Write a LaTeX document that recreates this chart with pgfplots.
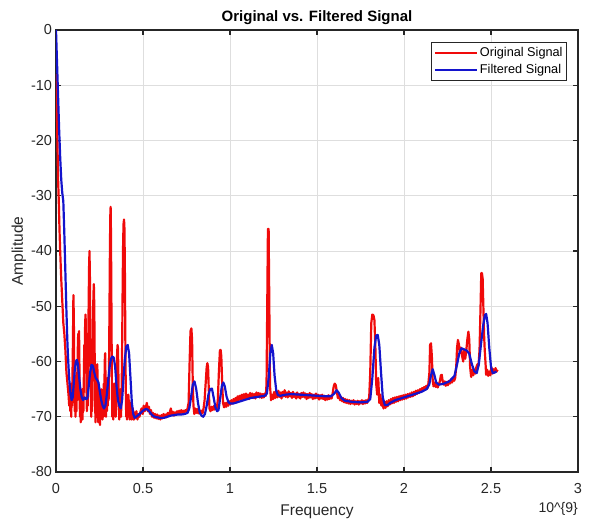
\documentclass[border=0pt]{standalone}
\usepackage{pgfplots}
\pgfplotsset{compat=1.18}
\usepackage{fontspec}
\setmainfont{Liberation Sans}
\definecolor{mred}{RGB}{240,10,10}
\definecolor{mblue}{RGB}{20,20,205}
\definecolor{mgray}{RGB}{38,38,38}
\definecolor{gridc}{RGB}{222,222,222}
\begin{document}
\begin{tikzpicture}
\begin{axis}[
  scale only axis, width=522pt, height=442pt,
  xmin=0, xmax=3, ymin=-80, ymax=0,
  xtick={0,0.5,...,3}, ytick={-80,-70,...,0},
  xticklabels={0,0.5,1,1.5,2,2.5,3},
  yticklabels={-80,-70,-60,-50,-40,-30,-20,-10,0},
  tick align=inside, major tick length=5pt,
  grid=major, major grid style={gridc, line width=0.8pt},
  axis line style={mgray, line width=1.1pt},
  tick style={mgray, line width=1.1pt},
  ticklabel style={font=\fontsize{14.5}{16}\selectfont, text=mgray},
  xticklabel style={yshift=-8pt},
  yticklabel style={xshift=-0.5pt},
  xlabel={Frequency}, ylabel={Amplitude},
  label style={font=\fontsize{15.5}{17}\selectfont, text=mgray},
  xlabel style={yshift=-4pt},
  ylabel style={yshift=-2pt},
  title={\textbf{Original vs. Filtered Signal}},
  title style={font=\fontsize{15}{18}\selectfont, yshift=-4pt},
  legend style={at={(1,1)}, anchor=north east, xshift=-11pt, yshift=-12pt,
    font=\fontsize{12.7}{15}\selectfont, draw=mgray, line width=0.9pt,
    inner xsep=2pt, inner ysep=3pt, row sep=2.5pt, cells={anchor=west}},
  legend image code/.code={\draw[#1, line width=2.2pt] (-2pt,0pt) -- (40pt,0pt);},
  legend cell align=left,
  clip=true,
]
\coordinate (sw) at (rel axis cs:0,0);
\coordinate (ne) at (rel axis cs:1,1);
\addplot[mred, line width=2.2pt, line join=round] coordinates {
(0.000,-8) (0.004,-12) (0.008,-20) (0.012,-27) (0.016,-31) (0.020,-36) (0.024,-40)
(0.030,-45) (0.036,-49) (0.042,-53) (0.048,-55) (0.054,-58) (0.060,-62) (0.066,-64)
(0.072,-66) (0.076,-68) (0.0800,-66) (0.0825,-69) (0.0850,-64) (0.0875,-70) (0.0900,-66)
(0.0925,-68) (0.0950,-62) (0.0975,-56) (0.1000,-48) (0.1025,-52) (0.1050,-63) (0.1075,-69)
(0.1100,-65) (0.1125,-70) (0.1150,-64) (0.1175,-69) (0.1200,-62) (0.1225,-67) (0.1250,-58)
(0.1275,-55) (0.1300,-60) (0.1325,-54.5) (0.1350,-62) (0.1375,-70) (0.1400,-66) (0.1425,-71)
(0.1450,-67) (0.1475,-70) (0.1500,-65) (0.1525,-70.5) (0.1550,-66) (0.1575,-69) (0.1600,-63)
(0.1625,-57) (0.1650,-60) (0.1675,-53) (0.1700,-51.5) (0.1725,-56) (0.1750,-64) (0.1775,-69)
(0.1800,-64) (0.1825,-68) (0.1850,-58) (0.1875,-50) (0.1900,-43) (0.1925,-40) (0.1950,-45)
(0.1975,-55) (0.2000,-66) (0.2025,-70) (0.2050,-64) (0.2075,-69) (0.2100,-61) (0.2125,-54)
(0.2150,-48) (0.2175,-46) (0.2200,-50) (0.2225,-60) (0.2250,-68) (0.2275,-71) (0.2300,-66)
(0.2325,-70) (0.2350,-64) (0.2375,-60.5) (0.2400,-66) (0.2425,-71) (0.2450,-67) (0.2475,-70)
(0.2500,-66) (0.2525,-71.5) (0.2550,-68) (0.2575,-70) (0.2600,-65) (0.2625,-69) (0.2650,-66)
(0.2675,-70.5) (0.2700,-67) (0.2725,-70) (0.2750,-64) (0.2775,-68) (0.2800,-60) (0.2825,-58.5)
(0.2850,-64) (0.2875,-70) (0.2900,-66) (0.2925,-69) (0.2950,-63) (0.2975,-68) (0.3000,-64)
(0.3025,-67) (0.3050,-60) (0.3075,-50) (0.3100,-39) (0.3125,-33) (0.3140,-32) (0.3160,-37)
(0.3185,-50) (0.3210,-63) (0.3235,-70) (0.3260,-66) (0.3285,-70.5) (0.3310,-67) (0.3335,-69)
(0.3360,-64) (0.3385,-69) (0.3410,-65) (0.3435,-70) (0.3460,-66) (0.3485,-63) (0.3510,-59)
(0.3535,-57) (0.3560,-57.5) (0.3585,-62) (0.3610,-68) (0.3635,-70.5) (0.3660,-66) (0.3685,-69)
(0.3710,-65) (0.3735,-70) (0.3760,-67) (0.3785,-62) (0.3810,-54) (0.3835,-45) (0.3860,-38)
(0.3885,-35) (0.3910,-34.3) (0.3935,-36) (0.3960,-44) (0.3985,-56) (0.4010,-65) (0.4035,-70)
(0.4060,-66) (0.4085,-70.5) (0.4110,-67) (0.4135,-70) (0.4160,-66) (0.4185,-69.5) (0.4210,-67)
(0.4235,-70.5) (0.4260,-68) (0.4285,-70) (0.4310,-67.5) (0.4335,-70.5) (0.4360,-68) (0.4385,-70)
(0.4410,-68.5) (0.4435,-70.5) (0.4460,-69) (0.4485,-70.5)
(0.456,-70) (0.462,-69) (0.468,-70.5) (0.474,-69.5) (0.480,-70) (0.486,-69) (0.492,-68.5)
(0.498,-69.5) (0.504,-68) (0.510,-69) (0.516,-68.3) (0.522,-67.5) (0.528,-69) (0.534,-68.2)
(0.540,-69.5) (0.546,-68.8) (0.552,-70) (0.558,-69.3) (0.564,-70.2) (0.570,-69.5) (0.576,-70.3)
(0.582,-69.6) (0.588,-70.4) (0.594,-69.8) (0.600,-70.5) (0.606,-69.7) (0.612,-70.3) (0.618,-69.5)
(0.624,-70.2) (0.630,-69.6) (0.636,-70.1) (0.642,-69.3) (0.648,-69.9) (0.654,-69.2) (0.660,-68.5)
(0.666,-69.7) (0.672,-69.1) (0.678,-69.8) (0.684,-69.2) (0.690,-69.6) (0.696,-69.0) (0.702,-69.5)
(0.708,-68.9) (0.714,-69.4) (0.720,-68.8) (0.726,-69.3) (0.732,-68.9) (0.738,-69.2) (0.744,-68.8)
(0.750,-69.1) (0.756,-68.5) (0.762,-67.5) (0.768,-60) (0.773,-54.5) (0.778,-54) (0.782,-56)
(0.786,-64) (0.790,-68) (0.795,-69.5) (0.800,-68.5) (0.806,-69.3) (0.812,-68.6) (0.818,-69.4)
(0.824,-68.8) (0.830,-69.5) (0.836,-68.9) (0.842,-69.4) (0.848,-68.5) (0.854,-67) (0.860,-64)
(0.866,-61) (0.870,-60.3) (0.874,-61) (0.878,-65) (0.882,-68.5) (0.888,-69) (0.894,-68.2)
(0.900,-68.8) (0.906,-68.1) (0.912,-68.7) (0.918,-68.0) (0.924,-68.5) (0.930,-67) (0.936,-62)
(0.942,-58) (0.946,-57.9) (0.950,-59) (0.955,-64) (0.960,-67.5) (0.966,-68.3) (0.972,-67.5)
(0.978,-68.2) (0.984,-67.4) (0.990,-68.0) (0.996,-67.2) (1.002,-67.8) (1.008,-67.0) (1.014,-67.6)
(1.020,-66.8) (1.026,-67.4) (1.032,-66.6) (1.038,-67.2) (1.044,-66.3) (1.050,-67.0) (1.056,-66.2)
(1.062,-66.9) (1.068,-66.0) (1.074,-66.8) (1.080,-65.9) (1.086,-66.7) (1.092,-65.8) (1.098,-66.6)
(1.104,-66.0) (1.110,-66.8) (1.116,-65.7) (1.122,-66.5) (1.128,-65.8) (1.134,-66.6) (1.140,-65.9)
(1.146,-66.7) (1.152,-65.6) (1.158,-66.4) (1.164,-65.7) (1.170,-66.5) (1.176,-65.8) (1.182,-66.6)
(1.188,-65.9) (1.194,-66.5) (1.200,-65.8) (1.206,-66.2) (1.210,-64) (1.214,-50) (1.218,-36)
(1.222,-36) (1.226,-50) (1.230,-64.5) (1.236,-67) (1.242,-66) (1.248,-66.8)
(1.254,-65.5) (1.260,-66.6) (1.266,-65.4) (1.272,-66.5) (1.278,-65.3) (1.284,-66.4) (1.290,-65.6)
(1.296,-66.7) (1.302,-65.5) (1.308,-66.3) (1.314,-65.2) (1.320,-66.4) (1.326,-65.6) (1.332,-66.5)
(1.338,-65.4) (1.344,-66.3) (1.350,-65.7) (1.356,-66.6) (1.362,-65.5) (1.368,-66.4) (1.374,-65.8)
(1.380,-66.7) (1.386,-65.6) (1.392,-66.5) (1.398,-65.9) (1.404,-66.7) (1.410,-65.7) (1.416,-66.4)
(1.422,-65.6) (1.428,-66.5) (1.434,-65.8) (1.440,-66.8) (1.446,-65.9) (1.452,-66.6) (1.458,-65.7)
(1.464,-66.5) (1.470,-65.9) (1.476,-66.8) (1.482,-66.0) (1.488,-66.7) (1.494,-65.8) (1.500,-66.6)
(1.506,-66.0) (1.512,-66.9) (1.518,-66.1) (1.524,-66.7) (1.530,-66.0) (1.536,-66.8) (1.542,-66.2)
(1.548,-67.0) (1.554,-66.3) (1.560,-66.9) (1.566,-66.1) (1.572,-66.8) (1.578,-66.2) (1.584,-66.7)
(1.590,-65.8) (1.596,-64.5) (1.602,-64.0) (1.608,-64.3) (1.614,-65.5) (1.620,-66.6) (1.626,-66.0)
(1.632,-67.0) (1.638,-66.4) (1.644,-67.2) (1.650,-66.6) (1.656,-67.4) (1.662,-66.8) (1.668,-67.5)
(1.674,-66.9) (1.680,-67.6) (1.686,-67.0) (1.692,-67.7) (1.698,-67.1) (1.704,-67.6) (1.710,-67.0)
(1.716,-67.8) (1.722,-67.2) (1.728,-67.7) (1.734,-67.1) (1.740,-67.8) (1.746,-67.2) (1.752,-67.6)
(1.758,-67.0) (1.764,-67.7) (1.770,-67.1) (1.776,-67.6) (1.782,-67.0) (1.788,-67.5) (1.794,-67.0)
(1.800,-66.5) (1.806,-62) (1.812,-53) (1.818,-51.5) (1.824,-51.6) (1.830,-52.5) (1.836,-58)
(1.840,-64) (1.846,-66) (1.852,-63) (1.858,-67.5) (1.864,-66) (1.870,-68) (1.876,-67)
(1.882,-68.5) (1.888,-67.3) (1.894,-68.4) (1.900,-67.2) (1.906,-68.1) (1.912,-67.0) (1.918,-67.8)
(1.924,-66.8) (1.930,-67.6) (1.936,-66.6) (1.942,-67.5) (1.948,-66.5) (1.954,-67.3) (1.960,-66.4)
(1.966,-67.2) (1.972,-66.3) (1.978,-67.0) (1.984,-66.2) (1.990,-66.9) (1.996,-66.1) (2.002,-66.8)
(2.008,-66.0) (2.014,-66.7) (2.020,-65.9) (2.026,-66.5) (2.032,-65.8) (2.038,-66.4) (2.044,-65.6)
(2.050,-66.3) (2.056,-65.5) (2.062,-66.1) (2.068,-65.3) (2.074,-65.9) (2.080,-65.2) (2.086,-65.7)
(2.092,-65.0) (2.098,-65.5) (2.104,-64.8) (2.110,-65.3) (2.116,-64.6) (2.122,-65.1) (2.128,-64.4)
(2.134,-64.9) (2.140,-64.0) (2.146,-62) (2.150,-57) (2.155,-56.7) (2.160,-59) (2.165,-63.5)
(2.170,-64.5) (2.176,-63.8) (2.182,-64.6) (2.188,-64.0) (2.194,-64.7) (2.200,-64.1) (2.206,-63.6)
(2.212,-62.5) (2.217,-62.4) (2.222,-63.5) (2.228,-64.2) (2.234,-63.6) (2.240,-64.4) (2.246,-63.7)
(2.252,-64.3) (2.258,-63.5) (2.264,-64.0) (2.270,-63.3) (2.276,-63.8) (2.282,-63.0) (2.288,-63.5)
(2.294,-63.0) (2.300,-61) (2.305,-57.5) (2.310,-56.1) (2.316,-57) (2.322,-58.5) (2.328,-57.5)
(2.334,-59) (2.340,-60) (2.346,-58) (2.352,-59.5) (2.358,-58) (2.364,-56) (2.370,-54.6)
(2.375,-56) (2.380,-61) (2.386,-62.8) (2.392,-61.5) (2.398,-62.5) (2.404,-61.5) (2.410,-62.2)
(2.416,-61) (2.422,-60.5) (2.428,-60.8) (2.434,-58) (2.440,-50) (2.444,-44) (2.448,-44)
(2.452,-45) (2.456,-50) (2.460,-55) (2.464,-58) (2.468,-60) (2.472,-62.4) (2.478,-61.5)
(2.484,-62.6) (2.490,-61.8) (2.496,-62.5) (2.502,-61) (2.508,-62.2) (2.514,-61.4) (2.520,-62.0)
(2.526,-61.2) (2.532,-61.8) (2.538,-61.5)
};
\addlegendentry{Original Signal}
\addplot[mblue, line width=2.2pt, line join=round] coordinates {
(0.000,0) (0.006,-6) (0.012,-12) (0.018,-18) (0.024,-23) (0.030,-27) (0.036,-29.5)
(0.042,-31) (0.048,-37) (0.054,-44) (0.060,-51) (0.066,-57) (0.072,-61) (0.078,-64)
(0.084,-66) (0.090,-67) (0.096,-66.5) (0.102,-64) (0.108,-61.5) (0.114,-60) (0.120,-59.7)
(0.126,-60.5) (0.132,-62.5) (0.140,-65) (0.148,-66.5) (0.156,-67) (0.164,-66.5) (0.172,-66.8)
(0.180,-66.7) (0.188,-64.5) (0.196,-62) (0.204,-60.6) (0.212,-60.8) (0.220,-62) (0.228,-63)
(0.236,-63.3) (0.244,-63.8) (0.252,-65.5) (0.260,-67) (0.268,-68) (0.276,-68.5) (0.284,-68)
(0.292,-66) (0.300,-63.5) (0.308,-61) (0.316,-59.5) (0.324,-59.1) (0.332,-59.3) (0.340,-61)
(0.348,-64.5) (0.356,-67) (0.364,-68) (0.372,-68.5) (0.380,-67) (0.388,-63) (0.396,-59.5)
(0.404,-57.3) (0.412,-57) (0.420,-58.5) (0.428,-63) (0.436,-67.5) (0.444,-69.5) (0.452,-70.2)
(0.460,-70) (0.470,-69.8) (0.480,-69.5) (0.490,-69.2) (0.500,-68.9) (0.510,-68.7) (0.520,-68.6)
(0.530,-68.8) (0.540,-69.2) (0.550,-69.6) (0.560,-69.9) (0.580,-70.1) (0.600,-70.2) (0.620,-70.2)
(0.640,-70.0) (0.660,-69.8) (0.680,-69.7) (0.700,-69.6) (0.720,-69.6) (0.740,-69.5) (0.756,-69.3)
(0.766,-68.5) (0.776,-66.5) (0.786,-64.2) (0.796,-63.6) (0.806,-65) (0.816,-67.5) (0.826,-69.2)
(0.836,-69.8) (0.846,-70) (0.856,-69.5) (0.866,-68) (0.876,-66) (0.886,-65) (0.896,-64.9)
(0.906,-66.5) (0.916,-68.3) (0.926,-69) (0.934,-68.8) (0.944,-66.5) (0.954,-64.3) (0.962,-63.8)
(0.970,-64.5) (0.980,-66.3) (0.990,-67.3) (1.000,-67.6) (1.020,-67.6) (1.040,-67.4) (1.060,-67.2)
(1.080,-67.0) (1.100,-66.8) (1.120,-66.6) (1.140,-66.5) (1.160,-66.4) (1.180,-66.3) (1.200,-66.2)
(1.212,-65.8) (1.222,-63) (1.232,-58.5) (1.240,-57) (1.248,-58.5) (1.256,-62.5) (1.266,-65.3)
(1.276,-66.1) (1.290,-66.2) (1.320,-66.0) (1.350,-65.9) (1.400,-66.0) (1.450,-66.1) (1.500,-66.2)
(1.550,-66.3) (1.580,-66.3) (1.600,-65.8) (1.612,-65.2) (1.624,-65.6) (1.640,-66.6) (1.660,-67.1)
(1.700,-67.3) (1.750,-67.4) (1.790,-67.3) (1.806,-66.8) (1.818,-63) (1.830,-57.5) (1.840,-55.3)
(1.849,-55.2) (1.858,-57) (1.868,-62) (1.878,-66.5) (1.890,-67.9) (1.905,-67.9) (1.920,-67.5)
(1.950,-67.0) (2.000,-66.5) (2.050,-66.0) (2.100,-65.5) (2.130,-65.0) (2.145,-64.2) (2.155,-62.5)
(2.165,-61.4) (2.175,-62.5) (2.185,-63.8) (2.200,-64.2) (2.230,-64.0) (2.260,-63.6) (2.290,-62.6)
(2.305,-60.5) (2.318,-58.5) (2.330,-57.6) (2.345,-57.8) (2.360,-58) (2.375,-58.6) (2.390,-60.5)
(2.405,-61.8) (2.418,-62.1) (2.430,-60.5) (2.442,-57) (2.455,-53.5) (2.465,-51.6) (2.472,-51.4)
(2.480,-53) (2.490,-57.5) (2.500,-61) (2.510,-62.1) (2.520,-62.0) (2.532,-61.8)
};
\addlegendentry{Filtered Signal}
\end{axis}
\node[anchor=base east, font=\fontsize{14}{16}\selectfont, text=mgray, inner sep=0pt]
  at ([yshift=-41pt]sw -| ne) {10\^{}\{9\}};
\pgfresetboundingbox
\path ([xshift=-56pt,yshift=-47pt]sw) rectangle ([xshift=17pt,yshift=30pt]ne);
\end{tikzpicture}
\end{document}
